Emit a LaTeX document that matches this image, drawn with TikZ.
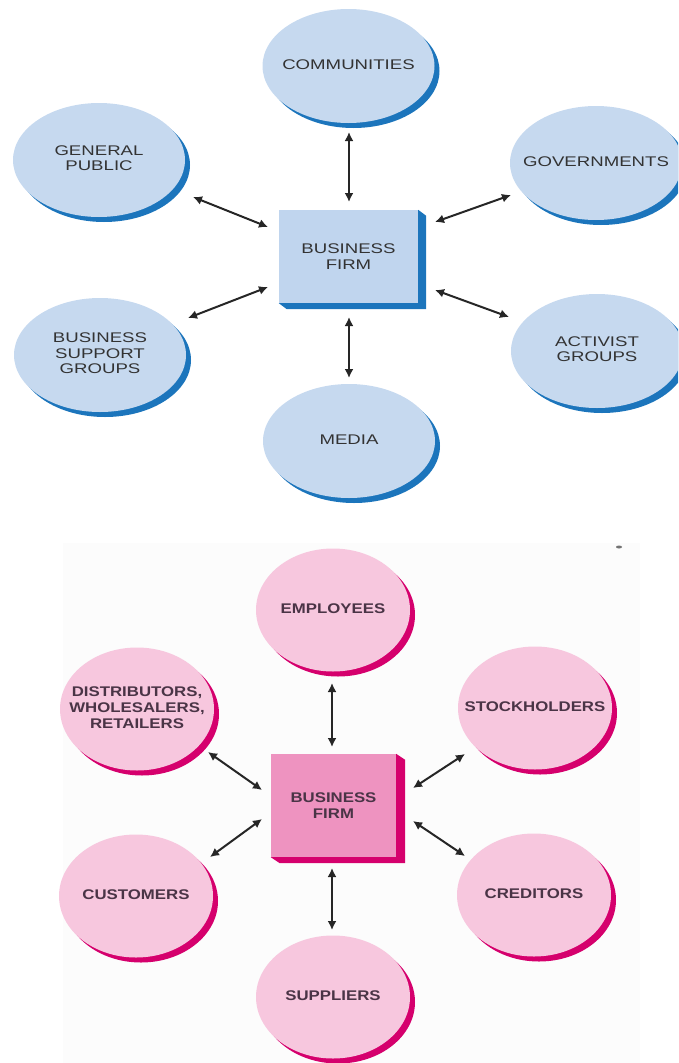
\documentclass[tikz,border=0pt]{standalone}
\usepackage{fontspec}
\newfontfamily\topfont[FakeStretch=1.33]{Liberation Sans}
\newfontfamily\botfont[FakeStretch=1.2]{Liberation Sans}
\usetikzlibrary{arrows.meta,shadows,shapes.geometric}
\definecolor{bfill}{HTML}{C6D9EF}
\definecolor{brim}{HTML}{1C75BC}
\definecolor{bbox}{HTML}{C0D5EE}
\definecolor{btext}{HTML}{333333}
\definecolor{pfill}{HTML}{F7C7DE}
\definecolor{prim}{HTML}{D5006D}
\definecolor{pbox}{HTML}{EE93C0}
\definecolor{ptext}{HTML}{4A3446}
\newcommand{\lbl}[1]{\makebox[0pt]{\begin{tabular}{@{}c@{}}#1\end{tabular}}}
\tikzset{
  topell/.style={ellipse, fill=bfill, minimum width=172pt, minimum height=114pt,
    inner sep=0pt, align=center, text=btext,
    font=\topfont\fontsize{14}{15.5}\selectfont,
    general shadow={fill=brim, shadow xshift=5pt, shadow yshift=-5pt}},
  botell/.style={ellipse, fill=pfill, minimum width=154pt, minimum height=123pt,
    inner sep=0pt, align=center, text=ptext,
    font=\botfont\bfseries\fontsize{14}{16}\selectfont,
    general shadow={fill=prim, shadow xshift=5pt, shadow yshift=-5pt}},
  topbox/.style={rectangle, fill=bbox, minimum width=139pt, minimum height=93pt,
    inner sep=0pt, align=center, text=btext,
    font=\topfont\fontsize{14}{15.5}\selectfont},
  botbox/.style={rectangle, fill=pbox, minimum width=125pt, minimum height=103pt,
    inner sep=0pt, align=center, text=ptext,
    font=\botfont\bfseries\fontsize{14}{16}\selectfont},
  arr/.style={{Latex[length=9pt,width=9pt]}-{Latex[length=9pt,width=9pt]},
    line width=2pt, draw=black!85}
}
\begin{document}
\begin{tikzpicture}[x=1pt,y=-1pt]
\useasboundingbox (0,0) rectangle (678,1063);
\clip (0,0) rectangle (678,1063);
% faint background of lower panel
\fill[black!1] (63,543) rectangle (640,1063);
\fill[black!55] (619,547) ellipse (3pt and 1.5pt);

% ---------- top diagram ----------
\node[topell] (comm)  at (348.5,66)  {\lbl{COMMUNITIES}};
\node[topell] (gp)    at (99,160)    {\lbl{GENERAL\\PUBLIC}};
\node[topell] (gov)   at (596,163)   {\lbl{GOVERNMENTS}};
\node[topell] (bsg)   at (100,355)   {\lbl{BUSINESS\\SUPPORT\\GROUPS}};
\node[topell] (act)   at (597,351)   {\lbl{ACTIVIST\\GROUPS}};
\node[topell] (media) at (349,441)   {\lbl{MEDIA}};
\node[topbox] (firmA) at (348.5,256.5) {BUSINESS\\FIRM};
\fill[brim] (firmA.north east) -- ([shift={(8,6)}]firmA.north east)
  -- ([shift={(8,6)}]firmA.south east) -- ([shift={(8,6)}]firmA.south west)
  -- (firmA.south west) -- (firmA.south east) -- cycle;

\coordinate (a1) at (349,132); \coordinate (a2) at (349,202);
\coordinate (b1) at (349,378); \coordinate (b2) at (349,317);
\coordinate (c1) at (193,197); \coordinate (c2) at (268,227);
\coordinate (d1) at (511,195); \coordinate (d2) at (435,222);
\coordinate (e1) at (188,318); \coordinate (e2) at (268,287);
\coordinate (f1) at (509,317); \coordinate (f2) at (435,290);
\draw[arr] (a1) -- (a2);
\draw[arr] (b1) -- (b2);
\draw[arr] (c1) -- (c2);
\draw[arr] (d1) -- (d2);
\draw[arr] (e1) -- (e2);
\draw[arr] (f1) -- (f2);

% ---------- bottom diagram ----------
\node[botell] (emp)   at (333,610)   {\lbl{EMPLOYEES}};
\node[botell] (dist)  at (137,709)   {\lbl{DISTRIBUTORS,\\WHOLESALERS,\\RETAILERS}};
\node[botell] (stock) at (535,708)   {\lbl{STOCKHOLDERS}};
\node[botell] (cust)  at (136,896)   {\lbl{CUSTOMERS}};
\node[botell] (cred)  at (534,895)   {\lbl{CREDITORS}};
\node[botell] (supp)  at (333,997)   {\lbl{SUPPLIERS}};
\node[botbox] (firmB) at (333.5,805.5) {BUSINESS\\FIRM};
\fill[prim] (firmB.north east) -- ([shift={(9,6)}]firmB.north east)
  -- ([shift={(9,6)}]firmB.south east) -- ([shift={(9,6)}]firmB.south west)
  -- (firmB.south west) -- (firmB.south east) -- cycle;

\coordinate (g1) at (332,683); \coordinate (g2) at (332,747);
\coordinate (h1) at (332,930); \coordinate (h2) at (332,868);
\coordinate (i1) at (208,752); \coordinate (i2) at (262,790);
\coordinate (j1) at (465,754); \coordinate (j2) at (413,788);
\coordinate (k1) at (210,857); \coordinate (k2) at (262,819);
\coordinate (l1) at (465,856); \coordinate (l2) at (413,821);
\draw[arr] (g1) -- (g2);
\draw[arr] (h1) -- (h2);
\draw[arr] (i1) -- (i2);
\draw[arr] (j1) -- (j2);
\draw[arr] (k1) -- (k2);
\draw[arr] (l1) -- (l2);
\end{tikzpicture}
\end{document}
